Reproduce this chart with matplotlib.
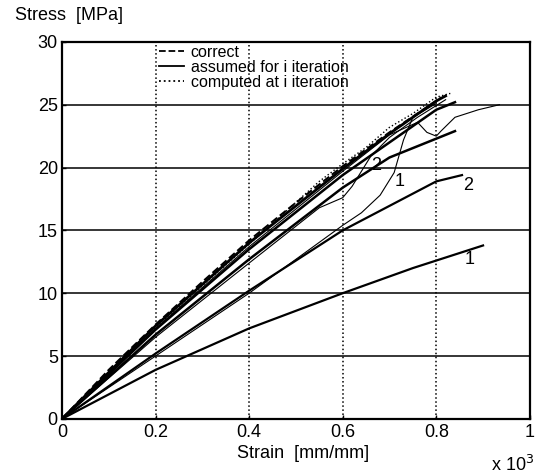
import matplotlib
matplotlib.use('Agg')
import matplotlib.pyplot as plt
from matplotlib.lines import Line2D

plt.rcParams['font.family'] = ['Liberation Sans', 'DejaVu Sans']

# correct curve (dashed)
correct_x = [0, 0.1, 0.2, 0.3, 0.4, 0.5, 0.6, 0.7, 0.8, 0.81]
correct_y = [0, 3.9, 7.5, 10.9, 14.2, 17.2, 20.1, 22.8, 25.3, 25.6]

# assumed stress-strain curves (solid)
assumed_1_x = [0, 0.2, 0.4, 0.6, 0.75, 0.9]
assumed_1_y = [0, 3.9, 7.2, 10.0, 12.0, 13.8]
assumed_2_x = [0, 0.2, 0.4, 0.6, 0.8, 0.855]
assumed_2_y = [0, 5.2, 10.2, 15.0, 18.9, 19.4]
assumed_3_x = [0, 0.2, 0.4, 0.6, 0.7, 0.84]
assumed_3_y = [0, 6.7, 12.7, 18.4, 20.8, 22.9]
assumed_4_x = [0, 0.2, 0.4, 0.6, 0.8, 0.84]
assumed_4_y = [0, 7.1, 13.5, 19.4, 24.6, 25.2]
assumed_5_x = [0, 0.2, 0.4, 0.6, 0.7, 0.8, 0.82]
assumed_5_y = [0, 7.4, 14.0, 19.9, 22.7, 25.3, 25.7]

# computed curves (thin)
computed_1_x = [0, 0.2, 0.4, 0.5, 0.6, 0.64, 0.68, 0.71, 0.73, 0.75, 0.8]
computed_1_y = [0, 5.0, 10.0, 12.7, 15.4, 16.4, 17.8, 19.6, 22.2, 24.0, 25.1]
computed_2_x = [0, 0.2, 0.4, 0.55, 0.6, 0.62, 0.66, 0.7, 0.76, 0.82]
computed_2_y = [0, 6.5, 12.4, 16.8, 17.6, 18.5, 20.9, 22.4, 24.0, 25.4]
computed_3_x = [0, 0.2, 0.4, 0.6, 0.7, 0.76, 0.78, 0.8, 0.81, 0.84, 0.89, 0.935]
computed_3_y = [0, 7.2, 13.7, 19.7, 22.6, 23.6, 22.8, 22.5, 22.9, 24.0, 24.6, 25.0]
computed_4_x = [0, 0.2, 0.4, 0.55, 0.6, 0.65, 0.7, 0.75, 0.8, 0.83]
computed_4_y = [0, 7.3, 13.9, 18.9, 20.3, 21.6, 23.2, 24.3, 25.6, 25.9]

fig = plt.figure(figsize=(5.39, 4.76), dpi=100)
ax = fig.add_axes([0.115, 0.12, 0.868, 0.792])

ax.plot(assumed_1_x, assumed_1_y, color='black', linewidth=1.6)
ax.plot(assumed_2_x, assumed_2_y, color='black', linewidth=1.6)
ax.plot(assumed_3_x, assumed_3_y, color='black', linewidth=1.8)
ax.plot(assumed_4_x, assumed_4_y, color='black', linewidth=1.8)
ax.plot(assumed_5_x, assumed_5_y, color='black', linewidth=2.0)
ax.plot(correct_x, correct_y, color='black', linestyle='--', linewidth=1.5)
ax.plot(computed_1_x, computed_1_y, color='black', linewidth=0.8)
ax.plot(computed_2_x, computed_2_y, color='black', linewidth=0.8)
ax.plot(computed_3_x, computed_3_y, color='black', linewidth=0.8)
ax.plot(computed_4_x, computed_4_y, color='black', linestyle=':', linewidth=1.0)

# iteration labels
ax.text(0.872, 12.7, '1', fontsize=13, ha='center', va='center')
ax.text(0.868, 18.6, '2', fontsize=13, ha='center', va='center')
ax.text(0.722, 18.9, '1', fontsize=13, ha='center', va='center')
ax.text(0.672, 20.2, '2', fontsize=13, ha='center', va='center')

ax.set_xlim(0, 1)
ax.set_ylim(0, 30)
ax.set_xticks([0, 0.2, 0.4, 0.6, 0.8, 1])
ax.set_xticklabels(['0', '0.2', '0.4', '0.6', '0.8', '1'])
ax.set_yticks([0, 5, 10, 15, 20, 25, 30])
ax.tick_params(direction='in', length=3, width=1, labelsize=13)
ax.tick_params(axis='x', pad=4)
ax.tick_params(axis='y', pad=3)
for s in ax.spines.values():
    s.set_linewidth(1.6)

ax.yaxis.grid(True, color='black', linestyle='-', linewidth=1.1)
ax.xaxis.grid(True, color='black', linestyle=':', linewidth=1.1)
ax.set_axisbelow(True)

handles = [Line2D([], [], color='black', linestyle='--', linewidth=1.3),
           Line2D([], [], color='black', linestyle='-', linewidth=1.3),
           Line2D([], [], color='black', linestyle=':', linewidth=1.3)]
labels = ['correct', 'assumed for i iteration', 'computed at i iteration']
ax.legend(handles, labels, loc='upper left', bbox_to_anchor=(0.2, 1.0),
          frameon=False, fontsize=11.5, handlelength=1.6, handletextpad=0.4,
          labelspacing=0.0, borderpad=0.2, borderaxespad=0.0)

fig.text(0.028, 1 - 16 / 476, 'Stress  [MPa]', fontsize=13, va='center', ha='left')
fig.text(303 / 539, 1 - 453 / 476, 'Strain  [mm/mm]', fontsize=13, va='center', ha='center')
fig.text(513 / 539, 1 - 465 / 476, 'x 10$^3$', fontsize=13, va='center', ha='center')

plt.savefig('out.png', dpi=100)
